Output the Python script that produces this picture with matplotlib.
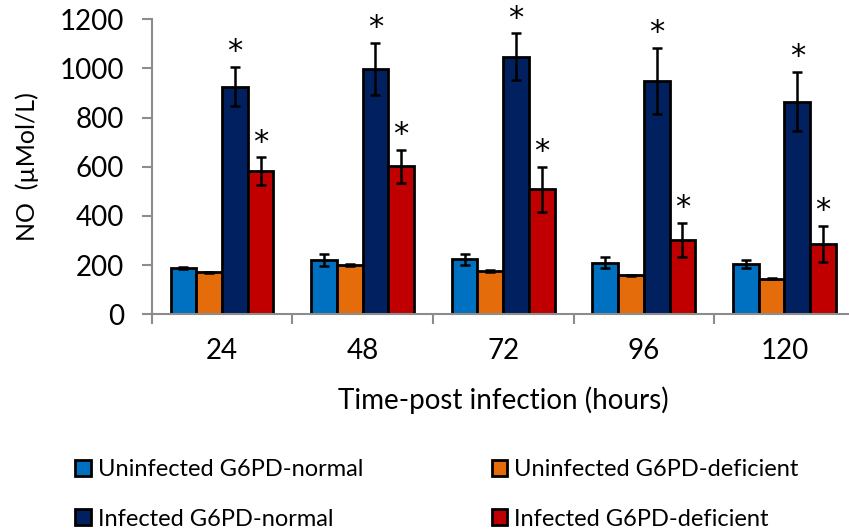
import numpy as np
import matplotlib
matplotlib.use("Agg")
import matplotlib.pyplot as plt

# values
hours = ["24", "48", "72", "96", "120"]
series_names = ["Uninfected G6PD-normal", "Uninfected G6PD-deficient",
                "Infected G6PD-normal", "Infected G6PD-deficient"]
uninf_normal = [188, 221, 224, 210, 206]
uninf_normal_err = [3, 25, 22, 22, 16]
uninf_def = [171, 200, 176, 159, 145]
uninf_def_err = [3, 3, 3, 2, 3]
inf_normal = [926, 998, 1048, 950, 865]
inf_normal_err = [80, 105, 95, 135, 120]
inf_def = [583, 603, 508, 302, 287]
inf_def_err = [56, 67, 92, 69, 73]
colors = ["#0070C0", "#E46C0A", "#002060", "#C00000"]

means = [uninf_normal, uninf_def, inf_normal, inf_def]
errs = [uninf_normal_err, uninf_def_err, inf_normal_err, inf_def_err]
significant = [False, False, True, True]

plt.rcParams['font.family'] = ['Lato', 'DejaVu Sans']

fig = plt.figure(figsize=(8.49, 5.30), dpi=100)
ax = fig.add_axes([151.7 / 849, 1 - 314.3 / 530, 703 / 849, 295 / 530])

x = np.arange(len(hours))
w = 0.183
bars = []
for i in range(4):
    pos = x + (i - 1.5) * w
    b = ax.bar(pos, means[i], w, color=colors[i], edgecolor="black", linewidth=2,
               label=series_names[i], zorder=2)
    bars.append(b)
    ax.errorbar(pos, means[i], yerr=errs[i], fmt="none", ecolor="black",
                elinewidth=1.8, capsize=3.6, capthick=1.8, zorder=3)
    if significant[i]:
        for p, m, e in zip(pos, means[i], errs[i]):
            ax.annotate("*", (p, m + e), xytext=(0, 0.5), textcoords="offset points",
                        ha="center", va="bottom", fontsize=22,
                        family="DejaVu Sans")

ax.set_ylim(0, 1200)
ax.set_yticks(range(0, 1201, 200))
ax.set_xlim(-0.5, len(hours) - 0.5)
ax.set_xticks(x)
ax.set_xticklabels(hours)
ax.set_xticks(np.arange(-0.5, len(hours), 1), minor=True)
ax.tick_params(axis="x", which="major", length=0, pad=17, labelsize=20)
ax.tick_params(axis="x", which="minor", length=7, width=1.5, color="#8c8c8c")
ax.tick_params(axis="y", length=7, width=1.5, color="#8c8c8c", labelsize=20, pad=13)
for s in ["top", "right"]:
    ax.spines[s].set_visible(False)
for s in ["left", "bottom"]:
    ax.spines[s].set_color("#8c8c8c")
    ax.spines[s].set_linewidth(1.5)

ax.set_xlabel("Time-post infection (hours)", fontsize=20, labelpad=16)
ax.set_ylabel("NO  (\u00b5Mol/L)", fontsize=18, labelpad=15)

order = [0, 2, 1, 3]
fig.legend([bars[k] for k in order], [series_names[k] for k in order],
           loc="upper left", bbox_to_anchor=(54 / 849, 1 - 438 / 530), ncol=2,
           frameon=False, fontsize=17, handlelength=0.65, handleheight=0.65,
           handletextpad=0.3, columnspacing=5.45, labelspacing=1.2)

fig.savefig("out.png", dpi=100)
